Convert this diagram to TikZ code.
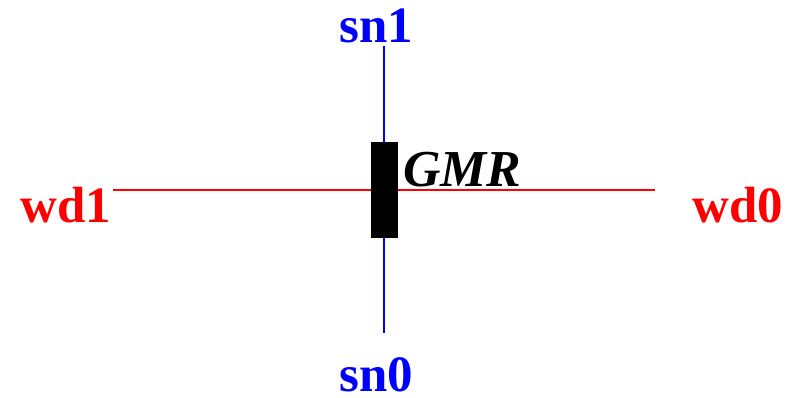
\documentclass[tikz,border=0pt]{standalone}
\usepackage{fontspec}
\setmainfont{Liberation Serif}

\begin{document}
\begin{tikzpicture}[
  x=0.02cm,y=-0.02cm,
  port/.style={inner sep=0pt,anchor=base west,font=\fontsize{29}{30}\selectfont\bfseries},
  sensor/.style={fill=black,draw=none,minimum width=0.54cm,minimum height=1.92cm,inner sep=0pt},
  wire/.style={draw=red,line width=1.4pt},
  track/.style={draw=blue,line width=1.6pt}
]
\useasboundingbox (0,0) rectangle (788,398);
\node[port,text=red] (wd1) at (20,223) {wd1};
\node[port,text=red] (wd0) at (692,223) {wd0};
\node[port,text=blue] (sn1) at (339,43) {sn1};
\node[port,text=blue] (sn0) at (339,392) {sn0};

\coordinate (wl) at (113,190);
\coordinate (wr) at (655,190);
\coordinate (st) at (384,46);
\coordinate (sb) at (384,333);

\draw[wire] (wl) -- (wr);
\draw[track] (st) -- (sb);
\node[sensor] (gmr) at (384.5,190) {};
\node[port,font=\fontsize{29.5}{30}\selectfont\bfseries\itshape] (label) at (403,187) {GMR};
\end{tikzpicture}
\end{document}
